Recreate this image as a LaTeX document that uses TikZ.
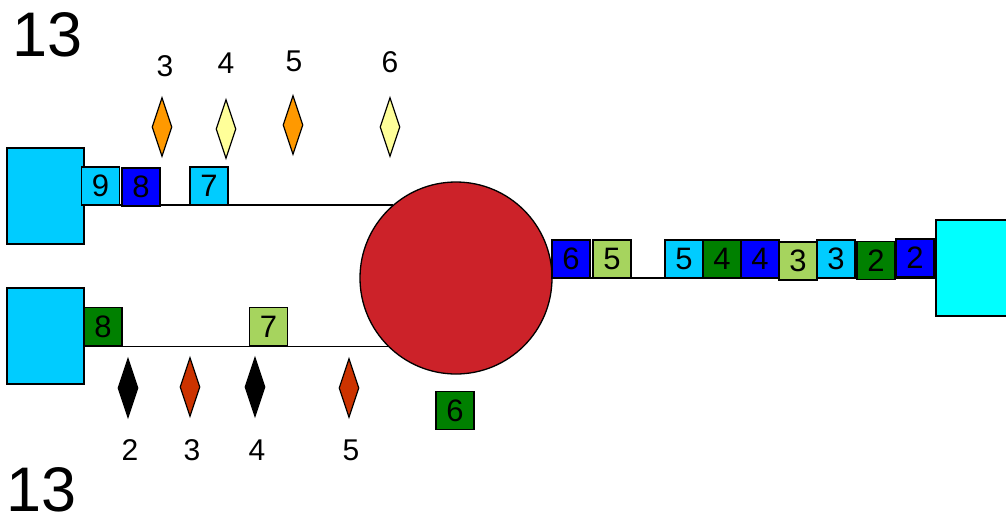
\documentclass[tikz,border=0pt]{standalone}
\usepackage{fontspec}
\setmainfont{Liberation Sans}
\usetikzlibrary{shapes.geometric,backgrounds}
\definecolor{cyanbox}{RGB}{0,204,255}
\definecolor{bluebox}{RGB}{0,0,255}
\definecolor{dgreen}{RGB}{0,128,0}
\definecolor{lgreen}{RGB}{166,212,94}
\definecolor{circred}{RGB}{204,34,41}
\definecolor{aqua}{RGB}{0,255,255}
\definecolor{yel}{RGB}{255,255,153}
\definecolor{orng}{RGB}{255,153,0}
\definecolor{rorng}{RGB}{204,51,0}
\tikzset{
  lbl/.style={font=\fontsize{30}{34}\selectfont, inner sep=0pt},
  big/.style={font=\fontsize{63}{68}\selectfont, inner sep=0pt, text depth=0pt},
  sq/.style={draw=black, line width=1.3pt, fill=#1, minimum width=38pt, minimum height=38pt, inner sep=0pt, font=\fontsize{31}{34}\selectfont},
  bigbox/.style={draw=black, line width=1.3pt, fill=#1, minimum height=96pt, inner sep=0pt},
  dia/.style={diamond, draw=black, line width=1.2pt, fill=#1, minimum width=20pt, minimum height=59pt, inner sep=0pt},
  conn/.style={draw=black, line width=1.5pt}
}
\begin{document}
\begin{tikzpicture}[x=1pt,y=-1pt]
\useasboundingbox (0,0) rectangle (1006,520);
% big boxes
\node[bigbox=cyanbox, minimum width=77pt] (tl) at (45.5,196) {};
\node[bigbox=cyanbox, minimum width=77pt] (bl) at (45.5,336) {};
\node[bigbox=aqua, minimum width=72pt] (rb) at (972,268) {};
% circle
\node[circle, draw=black, line width=1.3pt, fill=circred, minimum size=192pt, inner sep=0pt] (circ) at (456,278) {};
% connectors
\begin{pgfonlayer}{background}
\draw[conn] (tl.east |- circ.131.4) -- (circ.131.4);
\draw[conn] (bl.east |- circ.225.1) -- (circ.225.1);
\draw[conn] (circ.east) -- (rb.west |- circ.east);
\end{pgfonlayer}
% top boxes
\node[sq=cyanbox] (t9) at (100.5,186) {9};
\node[sq=bluebox] (t8) at (141,187) {8};
\node[sq=cyanbox] (t7) at (209,186) {7};
% bottom boxes
\node[sq=dgreen] (b8) at (103,326.5) {8};
\node[sq=lgreen] (b7) at (268.5,326.5) {7};
\node[sq=dgreen] (b6) at (455,410.5) {6};
% right boxes
\node[sq=bluebox] (r6) at (571,259) {6};
\node[sq=lgreen] (r5a) at (612,259) {5};
\node[sq=cyanbox] (r5b) at (684,259) {5};
\node[sq=dgreen] (r4a) at (722,259) {4};
\node[sq=bluebox] (r4b) at (760,259) {4};
\node[sq=lgreen] (r3a) at (798,261) {3};
\node[sq=cyanbox] (r3b) at (836,259) {3};
\node[sq=dgreen] (r2a) at (876,260.5) {2};
\node[sq=bluebox] (r2b) at (915,258) {2};
% top diamonds
\node[dia=orng] (d3) at (162,127) {};
\node[dia=yel] (d4) at (226,129) {};
\node[dia=orng] (d5) at (293,125) {};
\node[dia=yel] (d6) at (390,127) {};
\node[lbl] (l3) at (165,66) {3};
\node[lbl] (l4) at (226,63) {4};
\node[lbl] (l5) at (294,61) {5};
\node[lbl] (l6) at (390,62) {6};
% bottom diamonds
\node[dia=black] (e2) at (128,388) {};
\node[dia=rorng] (e3) at (190,387) {};
\node[dia=black] (e4) at (255,387) {};
\node[dia=rorng] (e5) at (349,388) {};
\node[lbl] (m2) at (130,450) {2};
\node[lbl] (m3) at (192,450) {3};
\node[lbl] (m4) at (257,450) {4};
\node[lbl] (m5) at (351,450) {5};
% big labels
\node[big] (n1) at (47.5,35) {13};
\node[big] (n2) at (41.5,489) {13};
\end{tikzpicture}
\end{document}
